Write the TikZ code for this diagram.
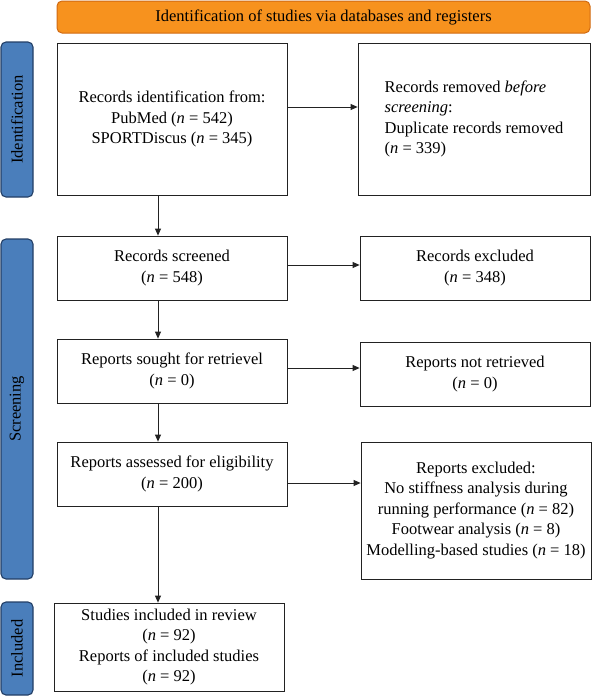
\documentclass[tikz,border=0pt]{standalone}
\usepackage{fontspec}
\setmainfont{Liberation Serif}
\usetikzlibrary{arrows.meta}
\definecolor{bandblue}{HTML}{4A7EBB}
\definecolor{banddark}{HTML}{233F66}
\definecolor{bannerorange}{HTML}{F7921E}
\definecolor{bannerdark}{HTML}{D06A12}
\definecolor{boxline}{HTML}{222222}
\begin{document}
\begin{tikzpicture}[x=1pt,y=-1pt,
  txt/.style={font=\fontsize{16.5}{20.5}\selectfont},
  box/.style={txt, draw=boxline, line width=0.8pt, align=center, inner sep=2pt, minimum width=230pt},
  side/.style={txt, draw=banddark, fill=bandblue, line width=1.1pt, rounded corners=5pt, rotate=90, minimum height=32pt, inner sep=0pt},
  banner/.style={txt, draw=bannerdark, fill=bannerorange, line width=1pt, rounded corners=5pt, minimum width=533pt, minimum height=32pt},
  arr/.style={draw=boxline, line width=0.8pt, -{Triangle[length=7pt,width=6pt]}}]
\useasboundingbox (0,0) rectangle (592,696);

\node[banner] (top) at (323.5,17) {Identification of studies via databases and registers};

\node[side, minimum width=155pt] (sid) at (17,119.5) {Identification};
\node[side, minimum width=340pt] (sscr) at (17,409) {Screening};
\node[side, minimum width=93pt] (sinc) at (17,648.5) {Included};

\node[box, minimum height=152pt] (b1) at (172,119) {Records identification from:\\PubMed (\textit{n} = 542)\\SPORTDiscus (\textit{n} = 345)};
\node[box, minimum width=232pt, minimum height=152pt, align=left] (b2) at (474,119) {Records removed \textit{before}\\\textit{screening}:\\Duplicate records removed\\(\textit{n} = 339)};

\node[box, minimum height=64pt] (b3) at (172,268) {Records screened\\(\textit{n} = 548)};
\node[box, minimum height=64pt] (b4) at (475,268) {Records excluded\\(\textit{n} = 348)};

\node[box, minimum height=64pt] (b5) at (172,371) {Reports sought for retrievel\\(\textit{n} = 0)};
\node[box, minimum height=64pt] (b6) at (475,374) {Reports not retrieved\\(\textit{n} = 0)};

\node[box, minimum height=64pt] (b7) at (172,474) {Reports assessed for eligibility\\(\textit{n} = 200)};
\node[box, minimum height=137pt] (b8) at (476,510.5) {Reports excluded:\\No stiffness analysis during\\running performance (\textit{n} = 82)\\Footwear analysis (\textit{n} = 8)\\Modelling-based studies (\textit{n} = 18)};

\node[box, minimum height=88pt] (b9) at (169,647) {Studies included in review\\(\textit{n} = 92)\\Reports of included studies\\(\textit{n} = 92)};

% horizontal connectors
\path ([yshift=12pt]b1.east) coordinate (h1);
\draw[arr] (h1) -- (h1 -| b2.west);
\path ([yshift=3pt]b3.east) coordinate (h2);
\draw[arr] (h2) -- (h2 -| b4.west);
\path ([yshift=3pt]b5.east) coordinate (h3);
\draw[arr] (h3) -- (h3 -| b6.west);
\path ([yshift=-9pt]b7.east) coordinate (h4);
\draw[arr] (h4) -- (h4 -| b8.west);

% vertical connectors
\path ([xshift=-14pt]b1.south) coordinate (v1);
\draw[arr] (v1) -- (v1 |- b3.north);
\path ([xshift=-14pt]b3.south) coordinate (v2);
\draw[arr] (v2) -- (v2 |- b5.north);
\path ([xshift=-14pt]b5.south) coordinate (v3);
\draw[arr] (v3) -- (v3 |- b7.north);
\path ([xshift=-14pt]b7.south) coordinate (v4);
\draw[arr] (v4) -- (v4 |- b9.north);
\end{tikzpicture}
\end{document}
